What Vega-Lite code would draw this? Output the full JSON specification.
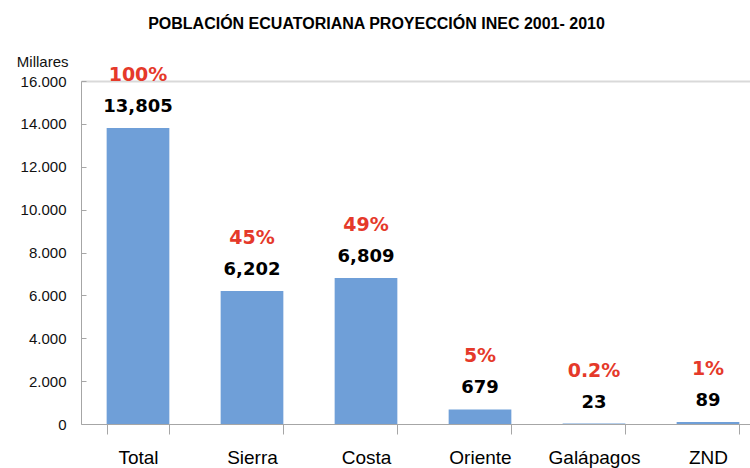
{
  "$schema": "https://vega.github.io/schema/vega-lite/v6.json",
  "width": 669,
  "height": 343,
  "autosize": {"type": "none"},
  "padding": {"left": 81, "top": 81, "right": 0, "bottom": 44},
  "background": "white",
  "title": {
    "text": "POBLACIÓN ECUATORIANA PROYECCIÓN INEC 2001- 2010",
    "font": "Liberation Sans",
    "fontSize": 16,
    "fontWeight": "bold",
    "color": "#000000",
    "anchor": "middle",
    "frame": "group",
    "dx": -39,
    "offset": 22
  },
  "config": {
    "view": {"stroke": null},
    "axis": {"labelFont": "Liberation Sans", "titleFont": "Liberation Sans"}
  },
  "data": {
    "values": [
      {"region": "Total", "value": 13805, "pct": "100%"},
      {"region": "Sierra", "value": 6202, "pct": "45%"},
      {"region": "Costa", "value": 6809, "pct": "49%"},
      {"region": "Oriente", "value": 679, "pct": "5%"},
      {"region": "Galápagos", "value": 23, "pct": "0.2%"},
      {"region": "ZND", "value": 89, "pct": "1%"}
    ]
  },
  "encoding": {
    "x": {
      "field": "region",
      "type": "nominal",
      "sort": null,
      "scale": {"range": [0, 684], "paddingInner": 0.45, "paddingOuter": 0.225},
      "axis": {
        "title": null,
        "labelAngle": 0,
        "labelFontSize": 19,
        "labelColor": "#000000",
        "labelPadding": 14,
        "tickBand": "extent",
        "tickSize": 10,
        "tickColor": "#a6a6a6",
        "domainColor": "#a6a6a6",
        "labelOverlap": false
      }
    },
    "y": {
      "field": "value",
      "type": "quantitative",
      "scale": {"domain": [0, 16000]},
      "axis": {
        "title": "Millares",
        "titleAngle": 0,
        "titleAlign": "right",
        "titleBaseline": "middle",
        "titleX": -13,
        "titleY": -20,
        "titleFontSize": 15,
        "titleFontWeight": "normal",
        "titleColor": "#111111",
        "values": [0, 2000, 4000, 6000, 8000, 10000, 12000, 14000, 16000],
        "labelExpr": "replace(format(datum.value, ','), ',', '.')",
        "labelFontSize": 15,
        "labelColor": "#111111",
        "labelPadding": 20,
        "tickSize": -5,
        "tickColor": "#a6a6a6",
        "domainColor": "#a6a6a6",
        "grid": true,
        "gridColor": {"condition": {"test": "datum.value === 16000", "value": "#d9d9d9"}, "value": "transparent"},
        "gridWidth": 2
      }
    }
  },
  "layer": [
    {"mark": {"type": "bar", "color": "#6f9fd8"}},
    {
      "mark": {"type": "text", "font": "DejaVu Sans", "fontWeight": "bold", "fontSize": 18, "color": "#000000", "baseline": "alphabetic", "dy": -16},
      "encoding": {"text": {"field": "value", "type": "quantitative", "format": ","}}
    },
    {
      "mark": {"type": "text", "font": "DejaVu Sans", "fontWeight": "bold", "fontSize": 19, "color": "#e5392a", "baseline": "alphabetic", "dy": -47},
      "encoding": {"text": {"field": "pct", "type": "nominal"}}
    }
  ]
}
